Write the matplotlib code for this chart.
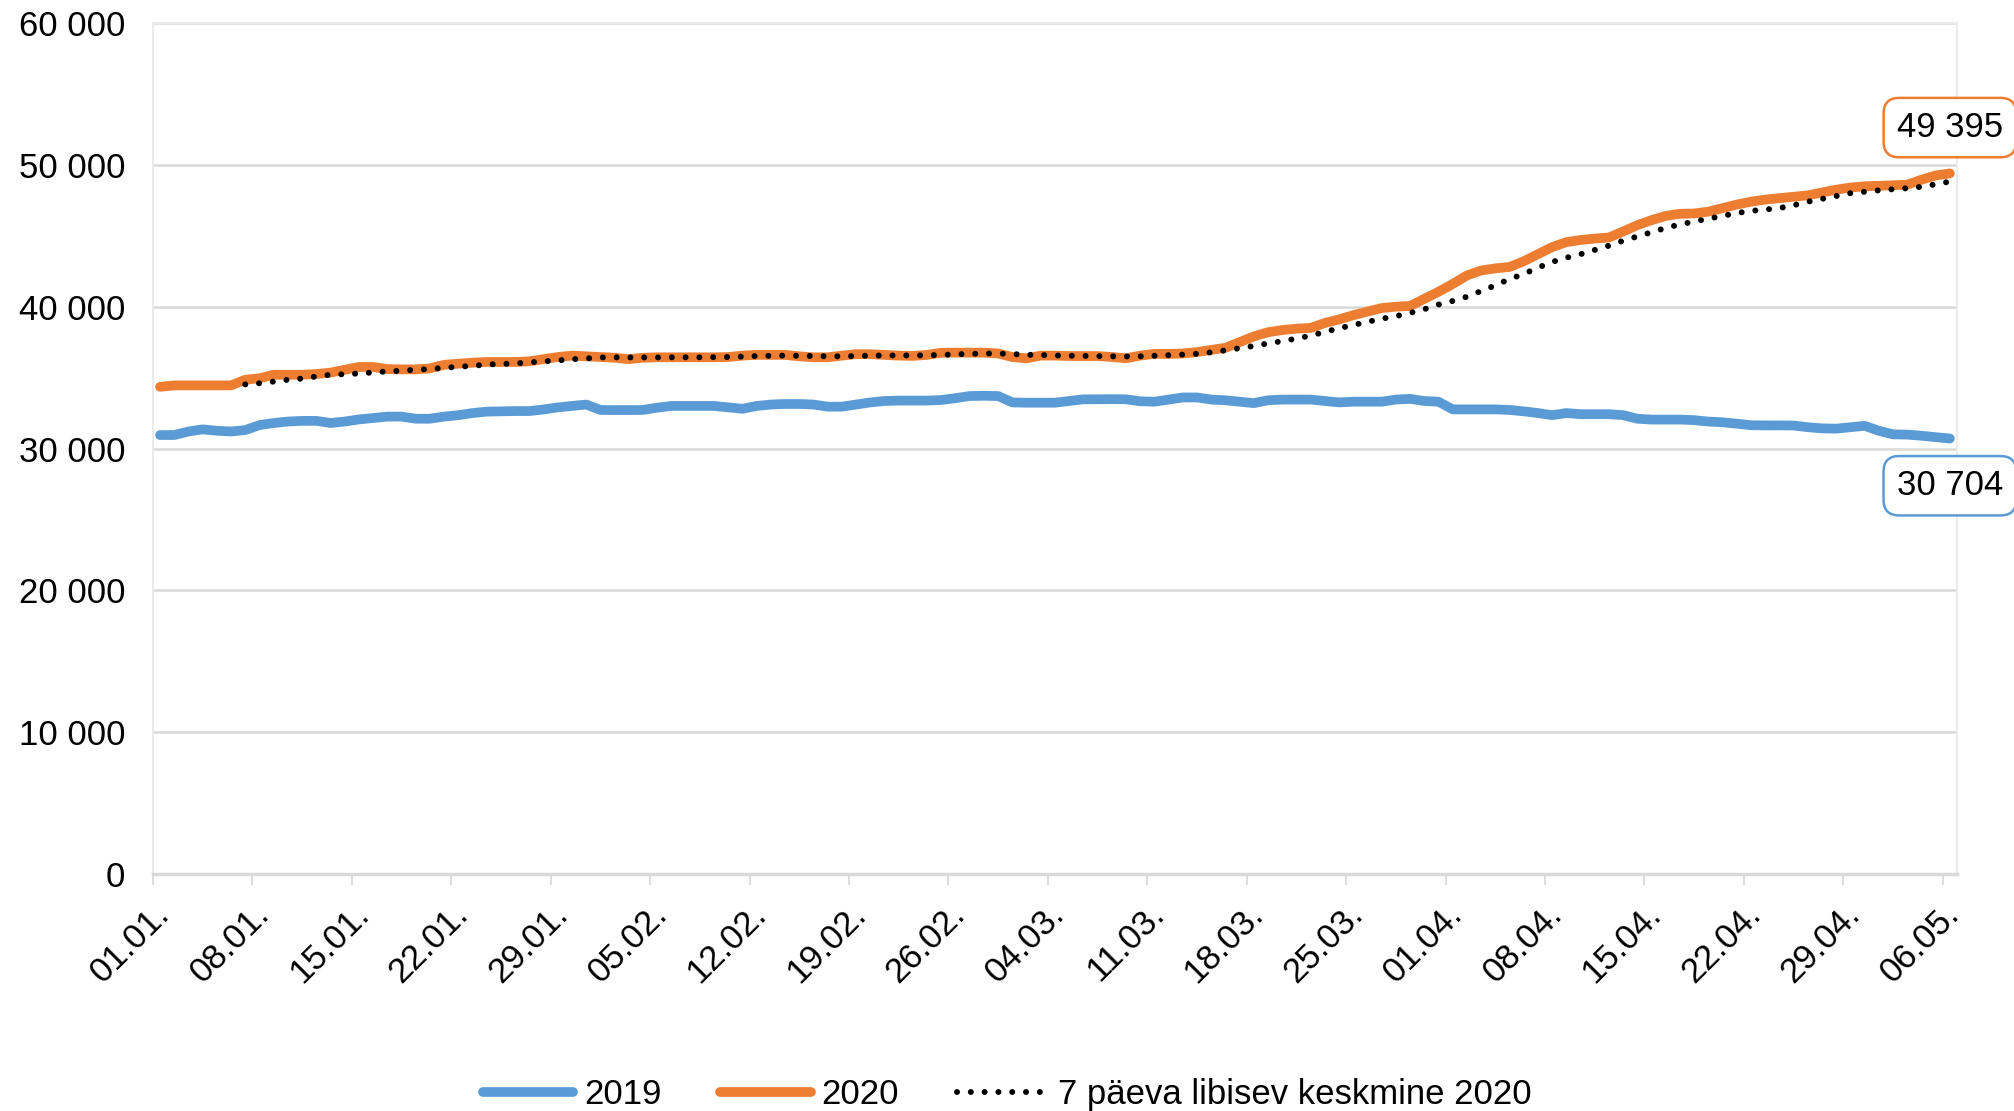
import numpy as np
import matplotlib
matplotlib.use("Agg")
import matplotlib.pyplot as plt
from matplotlib.ticker import FuncFormatter, MultipleLocator

plt.rcParams['font.family'] = ['Liberation Sans', 'DejaVu Sans']

# Andmed (päevad 01.01. - 06.05.)
tick_labels = ["01.01.", "08.01.", "15.01.", "22.01.", "29.01.", "05.02.", "12.02.",
               "19.02.", "26.02.", "04.03.", "11.03.", "18.03.", "25.03.", "01.04.",
               "08.04.", "15.04.", "22.04.", "29.04.", "06.05."]

y2019 = [30950, 30950, 31200, 31350, 31250, 31200, 31300, 31650, 31800, 31900,
         31950, 31950, 31800, 31900, 32050, 32150, 32250, 32250, 32100, 32100,
         32250, 32350, 32500, 32600, 32620, 32640, 32640, 32750, 32900, 33000,
         33100, 32720, 32710, 32710, 32720, 32880, 33000, 33000, 33000, 33000,
         32900, 32800, 33000, 33100, 33140, 33140, 33100, 32950, 32950, 33100,
         33250, 33350, 33380, 33380, 33380, 33420, 33550, 33700, 33720, 33700,
         33250, 33230, 33230, 33230, 33350, 33470, 33470, 33480, 33470, 33330,
         33300, 33450, 33600, 33600, 33450, 33400, 33300, 33200, 33400, 33450,
         33450, 33450, 33350, 33250, 33300, 33300, 33300, 33450, 33500, 33350,
         33300, 32760, 32760, 32760, 32760, 32720, 32620, 32500, 32350, 32500,
         32420, 32420, 32420, 32350, 32100, 32040, 32040, 32040, 32000, 31900,
         31850, 31750, 31640, 31630, 31630, 31620, 31500, 31420, 31400, 31500,
         31600, 31250, 31000, 30980, 30900, 30800, 30704]

y2020 = [34350, 34450, 34450, 34450, 34450, 34450, 34850, 34950, 35200, 35200,
         35200, 35250, 35350, 35550, 35750, 35750, 35600, 35580, 35580, 35650,
         35900, 35980, 36050, 36100, 36100, 36100, 36150, 36300, 36450, 36550,
         36500, 36450, 36400, 36300, 36400, 36430, 36430, 36430, 36430, 36430,
         36450, 36550, 36600, 36600, 36600, 36500, 36430, 36430, 36550, 36650,
         36650, 36600, 36550, 36530, 36600, 36750, 36760, 36760, 36760, 36700,
         36450, 36360, 36550, 36550, 36520, 36520, 36520, 36450, 36360, 36550,
         36670, 36670, 36700, 36800, 36950, 37100, 37500, 37900, 38200, 38350,
         38450, 38500, 38850, 39100, 39400, 39650, 39900, 40000, 40050, 40550,
         41050, 41600, 42200, 42550, 42700, 42800, 43200, 43700, 44200, 44550,
         44700, 44800, 44880, 45300, 45750, 46100, 46400, 46550, 46570, 46700,
         46950, 47200, 47400, 47550, 47650, 47750, 47850, 48050, 48250, 48400,
         48490, 48520, 48560, 48600, 48950, 49250, 49395]

# 7 päeva libisev keskmine (esimesed 6 päeva puuduvad)
ma2020 = [None, None, None, None, None, None,
          34520, 34600, 34720, 34850, 34930, 35080, 35200, 35240, 35290, 35360,
          35440, 35480, 35560, 35600, 35690, 35760, 35830, 35920, 35960, 36000,
          36070, 36150, 36210, 36290, 36350, 36420, 36430, 36420, 36420, 36420,
          36430, 36430, 36430, 36440, 36450, 36480, 36520, 36540, 36550, 36540,
          36520, 36500, 36500, 36520, 36550, 36560, 36560, 36560, 36570, 36600,
          36640, 36670, 36700, 36700, 36660, 36610, 36590, 36560, 36540, 36530,
          36510, 36500, 36490, 36500, 36540, 36580, 36620, 36680, 36780, 36920,
          37070, 37230, 37410, 37570, 37750, 37960, 38220, 38480, 38710, 38930,
          39150, 39330, 39560, 39820, 40150, 40400, 40700, 41100, 41500, 41950,
          42300, 42750, 43150, 43450, 43700, 44000, 44300, 44650, 44950, 45250,
          45550, 45800, 46000, 46200, 46400, 46600, 46750, 46850, 46950, 47150,
          47400, 47600, 47800, 48000, 48100, 48200, 48280, 48350, 48450, 48630,
          48820]

blue = '#5B9BD5'
orange = '#ED7D31'

x = np.arange(len(y2019)) + 0.5
ma = np.array(ma2020, dtype=float)

fig = plt.figure(figsize=(20.15, 11.11), dpi=100)
ax = fig.add_axes([0.0759, 0.2133, 0.8953, 0.766])

ax.plot(x, y2019, color=blue, lw=7, solid_capstyle='round', solid_joinstyle='round', label='2019', zorder=3)
ax.plot(x, y2020, color=orange, lw=7, solid_capstyle='round', solid_joinstyle='round', label='2020', zorder=4)
ax.plot(x, ma, color='black', lw=4.3, linestyle=(0, (0.01, 2.3)), dash_capstyle='round',
        label='7 päeva libisev keskmine 2020', zorder=5)

ax.set_xlim(0, len(y2019))
ax.set_ylim(0, 60000)
ax.yaxis.set_major_locator(MultipleLocator(10000))
ax.yaxis.set_major_formatter(FuncFormatter(lambda v, p: '{:,.0f}'.format(v).replace(',', ' ')))
ax.grid(axis='y', color='#D9D9D9', lw=1.8, zorder=0)
ax.set_axisbelow(True)

ax.set_xticks(np.arange(0, len(y2019), 7))
ax.set_xticklabels(tick_labels, rotation=45, ha='right', va='top', rotation_mode='anchor')

ax.tick_params(axis='y', length=0, pad=20, labelsize=25, labelcolor='black')
ax.tick_params(axis='x', length=8, width=1.3, color='#D9D9D9', direction='out', pad=9,
               labelsize=25, labelcolor='black')

for s in ['left', 'right', 'top']:
    ax.spines[s].set_color('#EBEBEB')
    ax.spines[s].set_linewidth(1.5)
ax.spines['bottom'].set_color('#D9D9D9')
ax.spines['bottom'].set_linewidth(2.5)

# Viimaste väärtuste sildid
ax.annotate('{:,}'.format(y2020[-1]).replace(',', ' '), xy=(x[-1], y2020[-1]),
            xytext=(0, 33), textcoords='offset points', ha='center', va='center', fontsize=25,
            bbox=dict(boxstyle='round,pad=0.38,rounding_size=0.45', fc='white', ec=orange, lw=1.8),
            annotation_clip=False, zorder=6)
ax.annotate('{:,}'.format(y2019[-1]).replace(',', ' '), xy=(x[-1], y2019[-1]),
            xytext=(0, -34), textcoords='offset points', ha='center', va='center', fontsize=25,
            bbox=dict(boxstyle='round,pad=0.38,rounding_size=0.45', fc='white', ec=blue, lw=1.8),
            annotation_clip=False, zorder=6)

fig.legend(loc='center', bbox_to_anchor=(0.5, 0.015), ncol=3, frameon=False, fontsize=25,
           handlelength=2.6, handletextpad=0.3, columnspacing=1.7)

fig.savefig('out.png', dpi=100, facecolor='white')
